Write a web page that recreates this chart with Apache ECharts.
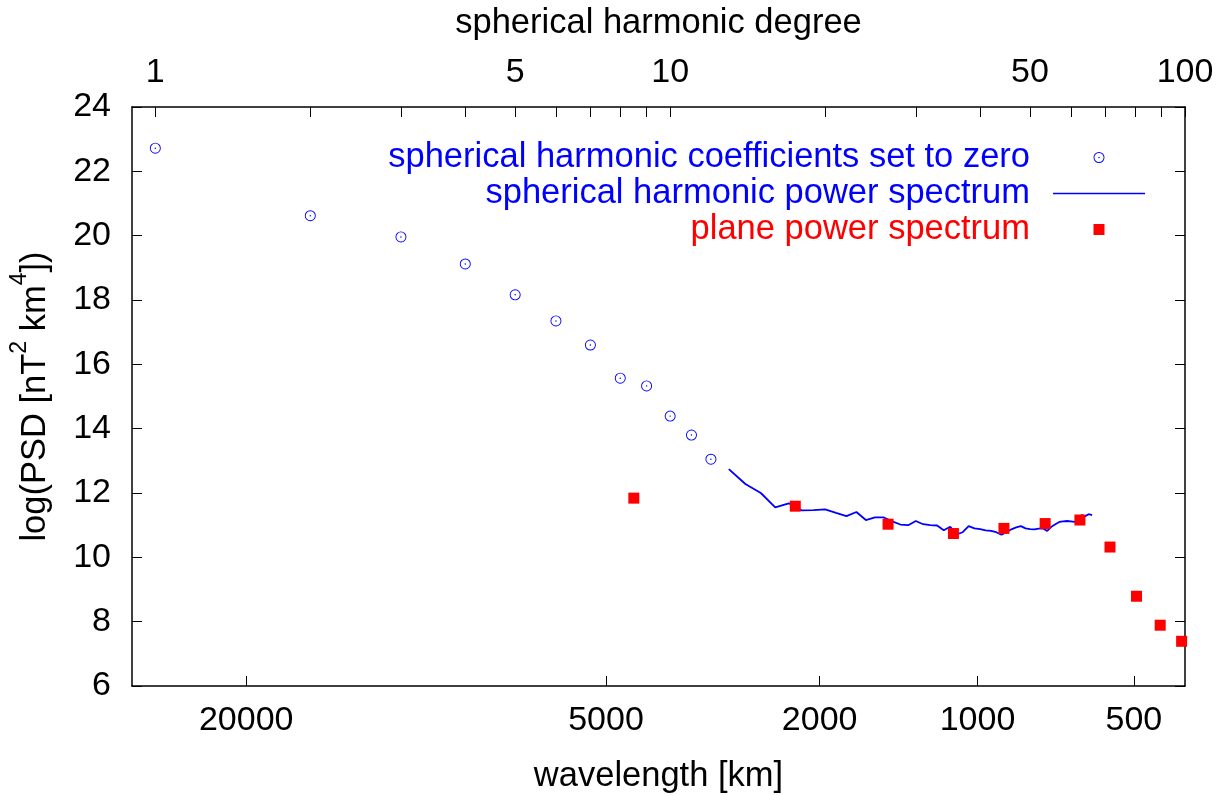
<!DOCTYPE html>
<html>
<head>
<meta charset="utf-8">
<title>Power spectrum</title>
<script src="https://cdn.jsdelivr.net/npm/echarts@6/dist/echarts.min.js"></script>
<style>
  html, body { margin: 0; padding: 0; background: #ffffff; }
  #chart { width: 1218px; height: 795px; }
</style>
</head>
<body>
<div id="chart"></div>
<script>
// Wavelength of degree n on the sphere: lambda = 2*pi*R / (n + 1/2)
const EARTH_RADIUS_KM = 6371;
const CIRCUMFERENCE_KM = 2 * Math.PI * EARTH_RADIUS_KM;

// Axis ticks and labels
const degreeTicks = [1, 2, 3, 4, 5, 6, 7, 8, 9, 10, 20, 30, 40, 50, 60, 70, 80, 90, 100];
const degreeLabels = [1, 5, 10, 50, 100];
const wavelengthLabels = [20000, 5000, 2000, 1000, 500];

// Degrees whose spherical harmonic coefficients are set to zero
const zeroedDegrees = [1, 2, 3, 4, 5, 6, 7, 8, 9, 10, 11, 12];
const zeroedPSD = [22.72, 20.62, 19.96, 19.12, 18.16, 17.35, 16.60, 15.57, 15.33, 14.39, 13.80, 13.05];

// Spherical harmonic power spectrum
const shDegrees = [13, 14, 15, 16, 17, 18, 19, 20, 21, 22, 23, 24, 25, 26, 27, 28, 29, 30,
  31, 32, 33, 34, 35, 36, 37, 38, 39, 40, 41, 42, 43, 44, 45, 46, 47, 48, 49, 50,
  51, 52, 53, 54, 55, 56, 57, 58, 59, 60, 61, 62, 63, 64, 65, 66];
const shPSD = [12.74, 12.28, 12.00, 11.55, 11.68, 11.46, 11.47, 11.49, 11.38, 11.28, 11.41, 11.16,
  11.24, 11.24, 11.12, 11.02, 11.00, 11.13, 11.03, 11.00, 10.99, 10.84, 10.95, 10.71, 10.78,
  10.97, 10.90, 10.88, 10.84, 10.82, 10.78, 10.70, 10.78, 10.87, 10.93, 10.97, 10.90, 10.88,
  10.87, 10.89, 10.90, 10.82, 10.95, 11.03, 11.10, 11.12, 11.13, 11.12, 11.10, 11.19, 11.31,
  11.28, 11.34, 11.31];

// Plane (flat-earth) power spectrum, placed at equivalent degree
const planeDegrees = [8.5, 17.5, 26.5, 35.5, 44.5, 53.5, 62.5, 71.5, 80.5, 89.5, 98.5];
const planePSD = [11.84, 11.59, 11.03, 10.74, 10.90, 11.05, 11.16, 10.32, 8.79, 7.89, 7.39];

const wavelengthToDegree = (lambda) => CIRCUMFERENCE_KM / lambda - 0.5;
const degreeToWavelength = (n) => CIRCUMFERENCE_KM / (n + 0.5);
const pair = (xs, ys) => xs.map((x, i) => [x, ys[i]]);

const FONT = "'Liberation Sans', Arial, Helvetica, sans-serif";
const FS = 34;
const FS_TEXT = 34.5;
const BLUE = '#0000ff';
const RED = '#ff0000';

// Open circle with a centre dot
const CIRCLE_DOT = 'path://M12,0A12,12,0,1,1,12,24A12,12,0,1,1,12,0Z' +
  'M12,2A10,10,0,1,0,12,22A10,10,0,1,0,12,2Z' +
  'M12,10.4A1.6,1.6,0,1,1,12,13.6A1.6,1.6,0,1,1,12,10.4Z';
// Filled square
const SQUARE = 'path://M0,0H10V10H0Z';
// Short horizontal stroke used as the line sample in the key
const LINE_SAMPLE = 'path://M0,0H92V1.6H0Z';

const frameLine = { show: true, onZero: false, lineStyle: { color: '#000', width: 1.5 } };
const tickStyle = { color: '#000', width: 1 };

const wavelengthTickDegrees = wavelengthLabels.map(wavelengthToDegree);

const chart = echarts.init(document.getElementById('chart'), null, { renderer: 'canvas' });

chart.setOption({
  animation: false,
  backgroundColor: '#ffffff',
  textStyle: { fontFamily: FONT, color: '#000' },
  grid: { left: 132, right: 33, top: 107, bottom: 109, containLabel: false, outerBoundsMode: 'none' },
  legend: {
    orient: 'vertical',
    align: 'right',
    right: 73,
    top: 140,
    padding: 0,
    itemGap: 1,
    itemWidth: 92,
    itemHeight: 11,
    selectedMode: false,
    textStyle: { fontFamily: FONT, fontSize: FS_TEXT, lineHeight: 28, padding: [7, 18, 0, 0] },
    data: [
      { name: 'spherical harmonic coefficients set to zero', textStyle: { color: BLUE } },
      { name: 'spherical harmonic power spectrum', icon: LINE_SAMPLE, textStyle: { color: BLUE } },
      { name: 'plane power spectrum', icon: SQUARE, textStyle: { color: RED } }
    ]
  },
  xAxis: [
    {
      type: 'log',
      logBase: 10,
      position: 'bottom',
      min: 0.901,
      max: 100,
      name: 'wavelength [km]',
      nameLocation: 'middle',
      nameGap: 73,
      nameTextStyle: { fontFamily: FONT, fontSize: FS_TEXT, color: '#000' },
      axisLine: frameLine,
      axisTick: { show: true, inside: true, length: 10, customValues: wavelengthTickDegrees, lineStyle: tickStyle },
      axisLabel: {
        customValues: wavelengthTickDegrees,
        margin: 18,
        fontSize: FS,
        color: '#000',
        fontFamily: FONT,
        formatter: (v) => String(Math.round(degreeToWavelength(v)))
      },
      splitLine: { show: false },
      minorTick: { show: false }
    },
    {
      type: 'log',
      logBase: 10,
      position: 'top',
      min: 0.901,
      max: 100,
      name: 'spherical harmonic degree',
      nameLocation: 'middle',
      nameGap: 66,
      nameTextStyle: { fontFamily: FONT, fontSize: FS_TEXT, color: '#000' },
      axisLine: frameLine,
      axisTick: { show: true, inside: true, length: 10, customValues: degreeTicks, lineStyle: tickStyle },
      axisLabel: {
        customValues: degreeLabels,
        margin: 17,
        fontSize: FS,
        color: '#000',
        fontFamily: FONT,
        formatter: (v) => String(Math.round(v))
      },
      splitLine: { show: false },
      minorTick: { show: false }
    }
  ],
  yAxis: [
    {
      type: 'value',
      position: 'left',
      min: 6,
      max: 24,
      interval: 2,
      name: 'log(PSD [nT{sup|2} km{sup|4}])',
      nameLocation: 'middle',
      nameRotate: 90,
      nameGap: 60,
      nameTextStyle: {
        fontFamily: FONT,
        fontSize: FS_TEXT,
        color: '#000',
        lineHeight: 54,
        rich: {
          sup: { fontFamily: FONT, fontSize: 23, lineHeight: 23, verticalAlign: 'top', color: '#000' }
        }
      },
      axisLine: frameLine,
      axisTick: { show: true, inside: true, length: 10, lineStyle: tickStyle },
      axisLabel: { margin: 21, fontSize: FS, color: '#000', fontFamily: FONT },
      splitLine: { show: false }
    },
    {
      type: 'value',
      position: 'right',
      min: 6,
      max: 24,
      interval: 2,
      axisLine: frameLine,
      axisTick: { show: true, inside: true, length: 10, lineStyle: tickStyle },
      axisLabel: { show: false },
      splitLine: { show: false }
    }
  ],
  series: [
    {
      name: 'spherical harmonic coefficients set to zero',
      type: 'scatter',
      xAxisIndex: 0,
      yAxisIndex: 0,
      symbol: CIRCLE_DOT,
      symbolSize: 11,
      itemStyle: { color: BLUE, opacity: 1 },
      data: pair(zeroedDegrees, zeroedPSD),
      z: 3
    },
    {
      name: 'spherical harmonic power spectrum',
      type: 'line',
      xAxisIndex: 0,
      yAxisIndex: 0,
      symbol: 'none',
      showSymbol: false,
      lineStyle: { color: BLUE, width: 1.8 },
      itemStyle: { color: BLUE },
      data: pair(shDegrees, shPSD),
      z: 2
    },
    {
      name: 'plane power spectrum',
      type: 'scatter',
      xAxisIndex: 0,
      yAxisIndex: 0,
      symbol: SQUARE,
      symbolSize: 11,
      itemStyle: { color: RED, opacity: 1 },
      data: pair(planeDegrees, planePSD),
      z: 4
    }
  ]
});
</script>
</body>
</html>
